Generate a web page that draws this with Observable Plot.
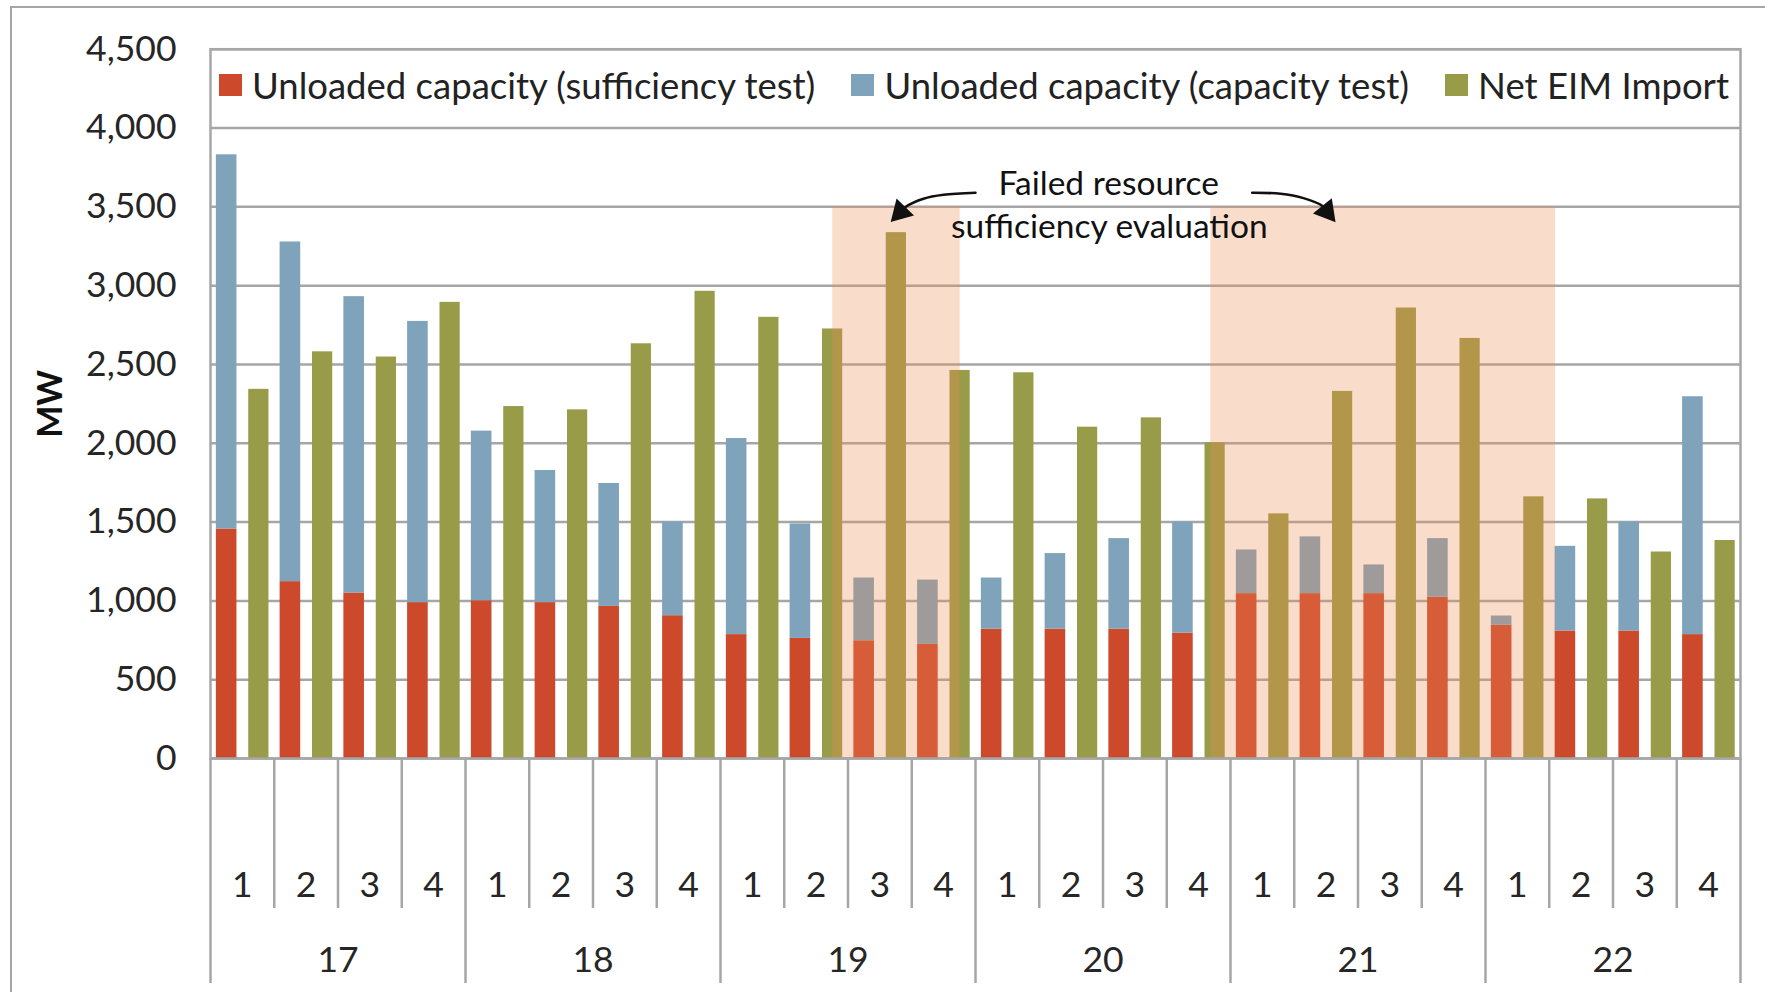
<!DOCTYPE html>
<html><head><meta charset="utf-8">
<script src="https://cdn.jsdelivr.net/npm/d3@7"></script>
<script src="https://cdn.jsdelivr.net/npm/@observablehq/plot@0.6"></script>
<style>
html,body{margin:0;padding:0;background:#fff;}
#wrap{position:relative;width:1765px;height:992px;overflow:hidden;font-family:Lato,sans-serif;}
#outer{position:absolute;left:10px;top:6px;right:-10px;bottom:-10px;border-left:2.5px solid #A6A6A6;border-top:2.5px solid #A6A6A6;}
#legend{position:absolute;left:219px;width:1510px;top:69px;height:32px;display:flex;justify-content:space-between;align-items:center;font-size:36.5px;color:#222;}
.item{display:flex;align-items:center;white-space:nowrap;}
.sw{width:23px;height:22px;margin-right:10px;}
#wrap svg{position:absolute;left:0;top:0;}
</style></head>
<body><div id="wrap"><div id="outer"></div></div>
<script>
// ---- data ----
const hours = [17, 18, 19, 20, 21, 22];
const intervals = [1, 2, 3, 4];
const seriesNames = ["Unloaded capacity (sufficiency test)", "Unloaded capacity (capacity test)", "Net EIM Import"];
const seriesColors = ["#CC4A2B", "#7FA3BA", "#989B47"];
// MW, one value per 15-min interval (hour 17 int 1 ... hour 22 int 4)
const sufficiencyTest = [1456,1122,1050,989, 1001,989,965,906, 786,762,747,724, 821,821,821,796, 1046,1046,1046,1023, 845,809,809,786];
const capacityTest    = [2374,2155,1880,1784, 1076,838,780,595, 1244,726,398,408, 324,479,574,705, 277,360,182,372, 59,537,692,1509];
const netEIMImport    = [2342,2580,2547,2894, 2233,2212,2631,2964, 2799,2725,3336,2462, 2447,2102,2161,2003, 1552,2329,2858,2665, 1660,1647,1310,1383];
const yTicks = [0, 500, 1000, 1500, 2000, 2500, 3000, 3500, 4000, 4500];

// ---- annotation (in interval-index / MW units) ----
const failedSpans = [{from: 9.76, to: 11.76}, {from: 15.69, to: 21.1}];
const shadeTop = 3500;
const annotText = [
  {x: 14.09, y: 3572, text: "Failed resource"},
  {x: 14.1, y: 3305, text: "sufficiency evaluation"}
];
const arrowPts = [
  {id: "L", x: 12.0, y: 3589}, {id: "L", x: 11.498, y: 3576}, {id: "L", x: 11.184, y: 3551}, {id: "L", x: 10.902, y: 3499}, {id: "L", x: 10.84, y: 3476},
  {id: "R", x: 16.34, y: 3589}, {id: "R", x: 16.784, y: 3583}, {id: "R", x: 17.145, y: 3555}, {id: "R", x: 17.443, y: 3505}, {id: "R", x: 17.5, y: 3478}
];
const arrowHeads = [
  {x: 10.822, y: 3467, angle: 224},
  {x: 17.51, y: 3471, angle: 141}
];

const rows = sufficiencyTest.map((v, i) => ({
  i, hour: hours[Math.floor(i / 4)], interval: intervals[i % 4],
  suff: v, cap: capacityTest[i], net: netEIMImport[i]
}));

const grey = "#A6A6A6";
const bandTicks = d3.range(24).map(i => i + 0.5);
const hourTicks = hours.map((h, k) => k * 4 + 2);
const sepTicks = d3.range(25).filter(i => i % 4 !== 0);
const hourSepTicks = d3.range(25).filter(i => i % 4 === 0);

const chart = Plot.plot({
  width: 1765, height: 992,
  marginLeft: 210, marginRight: 25, marginTop: 48.7, marginBottom: 234,
  x: {domain: [0, 24], axis: null},
  y: {domain: [0, 4500], axis: null},
  style: {fontFamily: "Lato, sans-serif", fontSize: "35.5px", color: "#262626", background: "transparent"},
  marks: [
    Plot.gridY(yTicks, {stroke: grey, strokeOpacity: 1, strokeWidth: 2.5}),
    Plot.rectY(rows, {x1: d => d.i + 0.092, x2: d => d.i + 0.415, y1: 0, y2: "suff", fill: seriesColors[0]}),
    Plot.rectY(rows, {x1: d => d.i + 0.092, x2: d => d.i + 0.415, y1: "suff", y2: d => d.suff + d.cap, fill: seriesColors[1]}),
    Plot.rectY(rows, {x1: d => d.i + 0.6, x2: d => d.i + 0.917, y1: 0, y2: "net", fill: seriesColors[2]}),
    Plot.rect(failedSpans, {x1: "from", x2: "to", y1: 0, y2: shadeTop, fill: "#EE8A52", fillOpacity: 0.3}),
    Plot.frame({stroke: grey, strokeWidth: 2.5}),
    Plot.axisY(yTicks, {tickSize: 0, tickPadding: 34, tickFormat: d3.format(","), label: null, dy: 0}),
    Plot.axisX(bandTicks, {tickSize: 0, tickPadding: 113, tickFormat: d => String(intervals[Math.floor(d) % 4]), label: null}),
    Plot.axisX(hourTicks, {tickSize: 0, tickPadding: 188.6, tickFormat: d => String(hours[(d - 2) / 4]), label: null}),
    Plot.axisX(sepTicks, {tickSize: 150, stroke: grey, strokeWidth: 2.5, strokeOpacity: 1, tickFormat: () => "", label: null}),
    Plot.axisX(hourSepTicks, {tickSize: 225, stroke: grey, strokeWidth: 2.5, strokeOpacity: 1, tickFormat: () => "", label: null}),
    Plot.text(["MW"], {frameAnchor: "left", dx: -159, rotate: -90, fontWeight: "bold", fontSize: 34, textAnchor: "middle", lineAnchor: "middle", fill: "#111"}),
    Plot.text(annotText, {x: "x", y: "y", text: "text", lineAnchor: "bottom", textAnchor: "middle", fontSize: 33.5, fill: "#111"}),
    Plot.line(arrowPts, {x: "x", y: "y", z: "id", curve: "catmull-rom", stroke: "#111", strokeWidth: 2.5}),
    Plot.dot(arrowHeads, {x: "x", y: "y", symbol: "triangle", r: 9, fill: "#111", stroke: null, rotate: "angle"})
  ]
});

const wrap = document.getElementById("wrap");
wrap.appendChild(chart);

const legend = document.createElement("div");
legend.id = "legend";
seriesNames.forEach((name, k) => {
  const item = document.createElement("div");
  item.className = "item";
  const sw = document.createElement("span");
  sw.className = "sw";
  sw.style.background = seriesColors[k];
  const t = document.createElement("span");
  t.textContent = name;
  item.appendChild(sw); item.appendChild(t);
  legend.appendChild(item);
});
wrap.appendChild(legend);
</script>
</body></html>
